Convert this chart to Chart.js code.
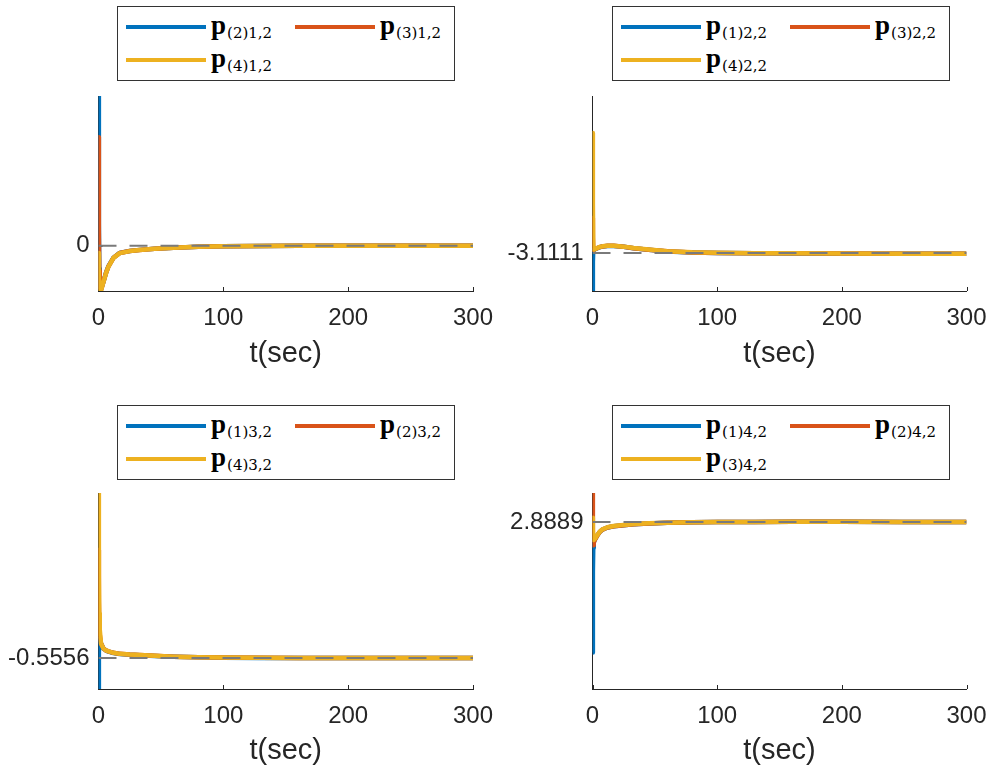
<!DOCTYPE html>
<html>
<head>
<meta charset="utf-8">
<script src="https://cdn.jsdelivr.net/npm/chart.js@4.4.1/dist/chart.umd.min.js"></script>
<style>
  html, body { margin: 0; padding: 0; background: #fff; overflow: hidden; }
  body { width: 990px; height: 769px; position: relative; }
  .panel { position: absolute; width: 498px; height: 290px; }
  .legend { position: absolute; width: 336px; height: 73px; border: 1px solid #333; background: #fff; }
  .swatch { position: absolute; width: 80px; height: 4.5px; }
  .entry { position: absolute; color: #000; white-space: nowrap; line-height: 26px; }
  .entry b { font-family: 'Liberation Serif', serif; font-size: 27px; }
  .entry span { font-family: 'DejaVu Serif', serif; font-size: 15px; position: relative; top: 4px; margin-left: 1px; }
</style>
</head>
<body>
<script>
// sample times (s)
const timeSec = [0, 0.3, 0.6, 1, 2, 4, 6, 8, 12, 17, 25, 33, 45, 60, 80, 100, 130, 160, 200, 250, 300];
const xTicks = [0, 100, 200, 300];

// steady-state values marked by the dashed lines
const refValues = [0, -3.1111, -0.5556, 2.8889];
const yLimits = [[-1, 3.3], [-3.5, -1.5], [-0.8, 0.75], [2.25, 3.0]];

// p_(j)1,2
const p2_12 = [3.3, 0.5, -0.5, -0.9, -0.97, -0.79, -0.6, -0.45, -0.265, -0.16, -0.118, -0.093, -0.068, -0.045, -0.025, -0.012, -0.005, -0.002, -0.001, 0, 0];
const p3_12 = [2.39, 0.3, -0.55, -0.92, -0.98, -0.795, -0.605, -0.455, -0.268, -0.163, -0.119, -0.094, -0.069, -0.045, -0.025, -0.012, -0.006, -0.002, -0.001, 0, 0];
const p4_12 = [-0.16, -0.6, -0.85, -0.97, -0.99, -0.8, -0.61, -0.46, -0.27, -0.165, -0.12, -0.095, -0.07, -0.046, -0.026, -0.013, -0.006, -0.003, -0.001, 0, 0];

// p_(j)2,2
const p1_22 = [-3.5, -3.2, -3.09, -3.078, -3.072, -3.06, -3.05, -3.044, -3.038, -3.038, -3.047, -3.062, -3.077, -3.094, -3.104, -3.109, -3.113, -3.115, -3.117, -3.118, -3.119];
const p3_22 = [-2.75, -2.95, -3.06, -3.077, -3.071, -3.059, -3.049, -3.043, -3.037, -3.037, -3.046, -3.061, -3.076, -3.093, -3.104, -3.109, -3.112, -3.114, -3.116, -3.117, -3.118];
const p4_22 = [-1.88, -2.6, -3.05, -3.075, -3.07, -3.058, -3.048, -3.042, -3.036, -3.036, -3.045, -3.06, -3.075, -3.092, -3.103, -3.108, -3.112, -3.114, -3.116, -3.117, -3.118];

// p_(j)3,2
const p1_32 = [-0.8, -0.5, -0.42, -0.4, -0.44, -0.481, -0.496, -0.504, -0.515, -0.523, -0.529, -0.533, -0.539, -0.545, -0.549, -0.552, -0.554, -0.555, -0.5556, -0.5556, -0.5556];
const p2_32 = [0.3, -0.1, -0.3, -0.37, -0.44, -0.48, -0.495, -0.503, -0.514, -0.522, -0.528, -0.532, -0.538, -0.544, -0.548, -0.551, -0.553, -0.554, -0.555, -0.5556, -0.5556];
const p4_32 = [0.75, 0.1, -0.2, -0.33, -0.44, -0.48, -0.495, -0.503, -0.514, -0.522, -0.528, -0.532, -0.538, -0.544, -0.548, -0.551, -0.553, -0.554, -0.555, -0.5555, -0.5556];

// p_(j)4,2
const p1_42 = [2.39, 2.7, 2.79, 2.812, 2.823, 2.839, 2.852, 2.86, 2.868, 2.873, 2.877, 2.88, 2.883, 2.886, 2.888, 2.889, 2.8895, 2.89, 2.89, 2.8895, 2.889];
const p2_42 = [3.0, 2.85, 2.80, 2.81, 2.822, 2.838, 2.852, 2.86, 2.868, 2.873, 2.877, 2.88, 2.883, 2.886, 2.888, 2.889, 2.8895, 2.89, 2.89, 2.8895, 2.889];
const p3_42 = [2.905, 2.86, 2.83, 2.82, 2.825, 2.84, 2.853, 2.861, 2.869, 2.874, 2.878, 2.881, 2.884, 2.886, 2.888, 2.889, 2.8895, 2.89, 2.89, 2.8895, 2.889];

const panelSeries = [
  [p2_12, p3_12, p4_12],
  [p1_22, p3_22, p4_22],
  [p1_32, p2_32, p4_32],
  [p1_42, p2_42, p3_42]
];
const legendSubs = [
  ['(2)1,2', '(3)1,2', '(4)1,2'],
  ['(1)2,2', '(3)2,2', '(4)2,2'],
  ['(1)3,2', '(2)3,2', '(4)3,2'],
  ['(1)4,2', '(2)4,2', '(3)4,2']
];
const lineColors = ['#0072BD', '#D95319', '#EDB120'];

const axisColor = '#262626';
const tickFont = { family: "'Liberation Sans', Arial, sans-serif", size: 24 };
const titleFont = { family: "'Liberation Sans', Arial, sans-serif", size: 29 };

// where each subplot sits on the page
const layout = [
  { left: 0, top: 90, yAxisWidth: 98.5, padRight: 25, axisH: 89, legendLeft: 117, legendTop: 6 },
  { left: 495, top: 90, yAxisWidth: 97.5, padRight: 26.5, axisH: 89, legendLeft: 612, legendTop: 6 },
  { left: 0, top: 487, yAxisWidth: 98.5, padRight: 25, axisH: 88, legendLeft: 117, legendTop: 405 },
  { left: 495, top: 487, yAxisWidth: 97.5, padRight: 26.5, axisH: 88, legendLeft: 612, legendTop: 405 }
];

// MATLAB style: tick marks point into the axes
const inwardTicks = {
  id: 'inwardTicks',
  beforeDatasetsDraw(chart) {
    const { ctx, chartArea, scales } = chart;
    ctx.save();
    ctx.strokeStyle = axisColor;
    ctx.lineWidth = 1;
    scales.x.ticks.forEach((t) => {
      const px = Math.round(scales.x.getPixelForValue(t.value)) + 0.5;
      ctx.beginPath();
      ctx.moveTo(px, chartArea.bottom);
      ctx.lineTo(px, chartArea.bottom - 4);
      ctx.stroke();
    });
    scales.y.ticks.forEach((t) => {
      const py = Math.round(scales.y.getPixelForValue(t.value)) + 0.5;
      ctx.beginPath();
      ctx.moveTo(chartArea.left, py);
      ctx.lineTo(chartArea.left + 4, py);
      ctx.stroke();
    });
    ctx.restore();
  }
};

function buildLegend(i) {
  const box = layout[i];
  const lg = document.createElement('div');
  lg.className = 'legend';
  lg.style.left = box.legendLeft + 'px';
  lg.style.top = box.legendTop + 'px';
  const slots = [[8, 20], [177, 20], [8, 53]];
  legendSubs[i].forEach((sub, k) => {
    const [sx, sy] = slots[k];
    const sw = document.createElement('div');
    sw.className = 'swatch';
    sw.style.background = lineColors[k];
    sw.style.left = sx + 'px';
    sw.style.top = (sy - 2.25) + 'px';
    lg.appendChild(sw);
    const txt = document.createElement('div');
    txt.className = 'entry';
    txt.style.left = (sx + 85) + 'px';
    txt.style.top = (sy - 15) + 'px';
    txt.innerHTML = '<b>p</b><span>' + sub + '</span>';
    lg.appendChild(txt);
  });
  document.body.appendChild(lg);
}

function buildPanel(i) {
  const box = layout[i];
  const wrap = document.createElement('div');
  wrap.className = 'panel';
  wrap.style.left = box.left + 'px';
  wrap.style.top = box.top + 'px';
  const canvas = document.createElement('canvas');
  canvas.width = 498;
  canvas.height = 290;
  wrap.appendChild(canvas);
  document.body.appendChild(wrap);

  const ref = refValues[i];
  const datasets = panelSeries[i].map((vals, k) => ({
    data: timeSec.map((t, j) => ({ x: t, y: vals[j] })),
    borderColor: lineColors[k],
    borderWidth: 4.5,
    borderJoinStyle: 'round',
    pointRadius: 0,
    tension: 0,
    clip: 0,
    order: 3 - k
  }));
  datasets.push({
    data: [{ x: 0, y: ref }, { x: 300, y: ref }],
    borderColor: '#7a7a7a',
    borderWidth: 2,
    borderDash: [18, 13],
    pointRadius: 0,
    clip: 0,
    order: -1
  });

  new Chart(canvas, {
    type: 'line',
    data: { datasets },
    plugins: [inwardTicks],
    options: {
      responsive: false,
      animation: false,
      events: [],
      layout: { padding: { top: 6, right: box.padRight, left: 0, bottom: 0 } },
      plugins: { legend: { display: false }, tooltip: { enabled: false } },
      scales: {
        x: {
          type: 'linear',
          min: 0,
          max: 300,
          afterBuildTicks: (s) => { s.ticks = xTicks.map((v) => ({ value: v })); },
          afterFit: (s) => {
            s.height = box.axisH;
            s.paddingLeft = 0;
            s.paddingRight = 0;
          },
          ticks: { font: tickFont, color: axisColor, padding: 13, maxRotation: 0, callback: (v) => String(v) },
          grid: { display: false, drawTicks: false },
          border: { display: true, color: axisColor, width: 1 },
          title: { display: true, text: 't(sec)', font: titleFont, color: axisColor, padding: { top: 0, bottom: 9 } }
        },
        y: {
          type: 'linear',
          min: yLimits[i][0],
          max: yLimits[i][1],
          afterBuildTicks: (s) => { s.ticks = [{ value: ref }]; },
          afterFit: (s) => {
            s.width = box.yAxisWidth;
            s.paddingTop = 0;
            s.paddingBottom = 0;
          },
          ticks: { font: tickFont, color: axisColor, padding: 9, callback: (v) => (v === 0 ? '0' : v.toFixed(4)) },
          grid: { display: false, drawTicks: false },
          border: { display: true, color: axisColor, width: 1 }
        }
      }
    }
  });
}

for (let i = 0; i < 4; i++) {
  buildPanel(i);
  buildLegend(i);
}
</script>
</body>
</html>
